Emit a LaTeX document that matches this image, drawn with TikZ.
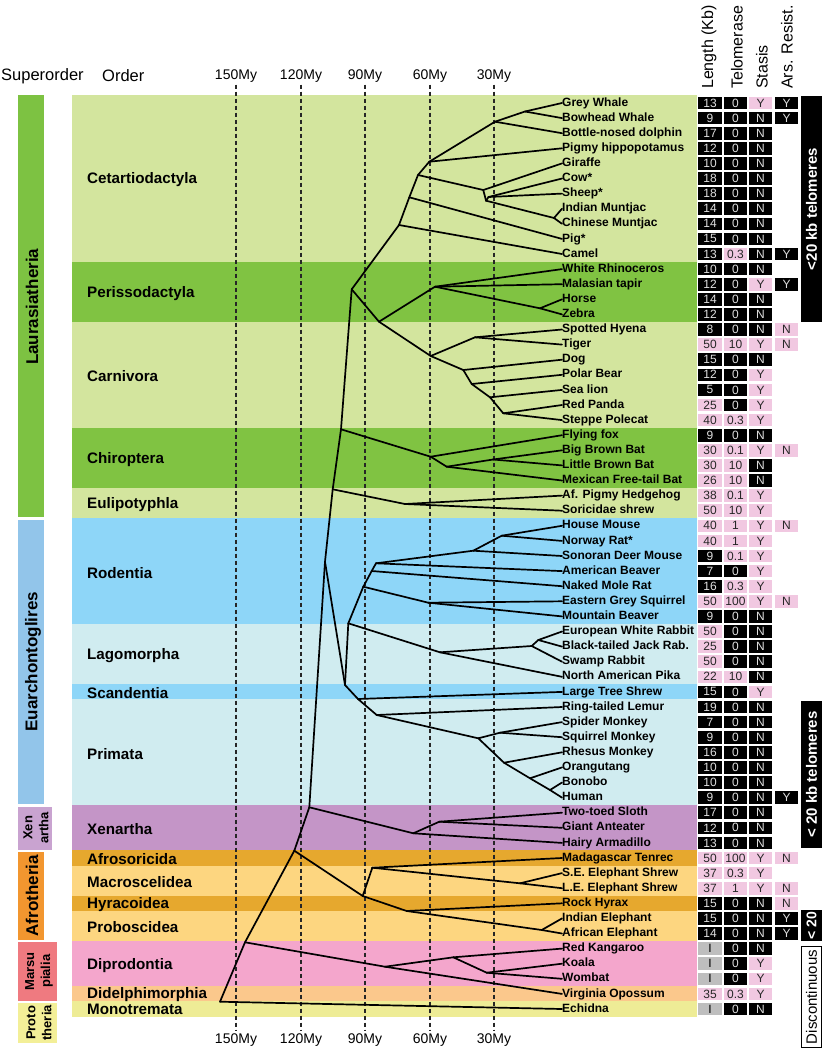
\documentclass[tikz,border=0pt]{standalone}
\usepackage{fontspec}
\setmainfont{Liberation Sans}
\definecolor{lgreen}{HTML}{D3E59E}
\definecolor{dgreen}{HTML}{80C342}
\definecolor{blueb}{HTML}{8ED6F8}
\definecolor{cyanb}{HTML}{D0ECF0}
\definecolor{purpb}{HTML}{C495C7}
\definecolor{dorange}{HTML}{E6A82E}
\definecolor{lorange}{HTML}{FDD680}
\definecolor{pinkb}{HTML}{F4A6CC}
\definecolor{peachb}{HTML}{FBC88C}
\definecolor{yellowb}{HTML}{EEEC96}
\definecolor{sLaur}{HTML}{7DC242}
\definecolor{sEuar}{HTML}{92C5EA}
\definecolor{sXen}{HTML}{C9A3D0}
\definecolor{sAfro}{HTML}{F2962F}
\definecolor{sMars}{HTML}{EF7A80}
\definecolor{sProt}{HTML}{F3EF98}
\definecolor{pinkc}{HTML}{F1C8E1}
\definecolor{grayc}{HTML}{BEBEBE}
\begin{document}
\begin{tikzpicture}[x=1pt,y=-1pt,
  tree/.style={line width=1.7pt, line join=round, line cap=round},
  timeline/.style={line width=1.1pt, dash pattern=on 4pt off 3pt, black!85},
  species/.style={anchor=west, inner sep=0pt, font=\bfseries\fontsize{12}{12}\selectfont, text height=8.7pt, text depth=2.4pt},
  ordlab/.style={anchor=west, inner sep=0pt, font=\bfseries\fontsize{15.2}{16}\selectfont},
  suplab/.style={rotate=90, inner sep=0pt, align=center},
  cell/.style={minimum width=23.5pt, minimum height=12.6pt, inner sep=0pt, font=\fontsize{12}{12}\selectfont},
  cellK/.style={cell, fill=black, text=black!12},
  cellP/.style={cell, fill=pinkc, text=black!85},
  cellG/.style={cell, fill=grayc, text=black},
  stY/.style={cellP}, stN/.style={cellK}, arY/.style={cellK}, arN/.style={cellP},
  colhead/.style={rotate=90, anchor=west, inner sep=0pt, font=\fontsize{16}{16}\selectfont},
  timelab/.style={inner sep=2pt, font=\fontsize{14}{14}\selectfont},
  bartext/.style={rotate=90, inner sep=0pt, text=white, font=\bfseries\fontsize{15}{15}\selectfont},
]
\useasboundingbox[fill=white] (0,0) rectangle (824,1050);

% order bands
\fill[lgreen] (72,95.45) rectangle (697,261.55);
\fill[dgreen] (72,261.55) rectangle (697,321.95);
\fill[lgreen] (72,321.95) rectangle (697,427.65);
\fill[dgreen] (72,427.65) rectangle (697,488.05);
\fill[lgreen] (72,488.05) rectangle (697,518.25);
\fill[blueb] (72,518.25) rectangle (697,623.95);
\fill[cyanb] (72,623.95) rectangle (697,684.35);
\fill[blueb] (72,684.35) rectangle (697,699.45);
\fill[cyanb] (72,699.45) rectangle (697,805.15);
\fill[purpb] (72,805.15) rectangle (697,850.45);
\fill[dorange] (72,850.45) rectangle (697,865.55);
\fill[lorange] (72,865.55) rectangle (697,895.75);
\fill[dorange] (72,895.75) rectangle (697,910.85);
\fill[lorange] (72,910.85) rectangle (697,941.05);
\fill[pinkb] (72,941.05) rectangle (697,986.35);
\fill[peachb] (72,986.35) rectangle (697,1001.45);
\fill[yellowb] (72,1001.45) rectangle (697,1016.55);

% superorder bars
\fill[sLaur] (18,95.45) rectangle (44,517);
\fill[sEuar] (18,519.5) rectangle (44,804);
\fill[sXen] (18,806.5) rectangle (52,849.5);
\fill[sAfro] (18,851.5) rectangle (44,940);
\fill[sMars] (18,942) rectangle (57,1000.5);
\fill[sProt] (18,1002.5) rectangle (57,1043);
\node[suplab, font=\bfseries\fontsize{17}{17}\selectfont] (supLaur) at (32,306.85) {Laurasiatheria};
\node[suplab, font=\bfseries\fontsize{17}{17}\selectfont, text height=12pt, text depth=3.5pt] (supEuar) at (33,661.7) {Euarchontoglires};
\node[suplab, font=\bfseries\fontsize{13}{16}\selectfont] (supXen) at (36,827.8) {Xen\\artha};
\node[suplab, font=\bfseries\fontsize{17}{17}\selectfont] (supAfro) at (32,895.75) {Afrotheria};
\node[suplab, font=\bfseries\fontsize{13}{16}\selectfont] (supMars) at (39,971.25) {Marsu\\pialia};
\node[suplab, font=\bfseries\fontsize{13}{16}\selectfont] (supProt) at (39,1022.8) {Proto\\theria};

% headers
\node[anchor=west, inner sep=0pt, font=\fontsize{16.5}{16}\selectfont] (hsup) at (1,76) {Superorder};
\node[anchor=west, inner sep=0pt, font=\fontsize{16.5}{16}\selectfont] (hord) at (102,76) {Order};
\node[colhead] (hlen) at (709,89) {Length (Kb)};
\node[colhead] (htel) at (737,89) {Telomerase};
\node[colhead] (hsta) at (762,89) {Stasis};
\node[colhead] (hars) at (787,89) {Ars. Resist.};

% time axis
\foreach \k/\xx/\lab in {1/236/150My,2/301/120My,3/365/90My,4/430/60My,5/494/30My}{
  \node[timelab] (tt\k) at (\xx,76) {\lab};
  \node[timelab] (tb\k) at (\xx,1040) {\lab};
  \draw[timeline] (tt\k.south) -- (tb\k.north);
}

% order labels
\node[ordlab] (oCet) at (87,180) {Cetartiodactyla};
\node[ordlab] (oPer) at (87,293.2) {Perissodactyla};
\node[ordlab] (oCar) at (87,376.3) {Carnivora};
\node[ordlab] (oChi) at (87,459.3) {Chiroptera};
\node[ordlab] (oEul) at (87,504.6) {Eulipotyphla};
\node[ordlab] (oRod) at (87,572.6) {Rodentia};
\node[ordlab] (oLag) at (87,655.6) {Lagomorpha};
\node[ordlab] (oSca) at (87,693.2) {Scandentia};
\node[ordlab] (oPri) at (87,753.8) {Primata};
\node[ordlab] (oXen) at (87,829.3) {Xenartha};
\node[ordlab] (oAfr) at (87,859.2) {Afrosoricida};
\node[ordlab] (oMac) at (87,882) {Macroscelidea};
\node[ordlab] (oHyr) at (87,904.6) {Hyracoidea};
\node[ordlab] (oPro) at (87,927.4) {Proboscidea};
\node[ordlab] (oDip) at (87,965.5) {Diprodontia};
\node[ordlab] (oDid) at (87,994.6) {Didelphimorphia};
\node[ordlab] (oMon) at (87,1009.8) {Monotremata};

% species and table
\foreach \qi/\qn/\ql/\qlc/\qt/\qtc/\qs/\qa in {
0/Grey Whale/13/K/0/K/Y/Y,
1/Bowhead Whale/9/K/0/K/N/Y,
2/Bottle-nosed dolphin/17/K/0/K/N/x,
3/Pigmy hippopotamus/12/K/0/K/N/x,
4/Giraffe/10/K/0/K/N/x,
5/Cow*/18/K/0/K/N/x,
6/Sheep*/18/K/0/K/N/x,
7/Indian Muntjac/14/K/0/K/N/x,
8/Chinese Muntjac/14/K/0/K/N/x,
9/Pig*/15/K/0/K/N/x,
10/Camel/13/K/0.3/P/N/Y,
11/White Rhinoceros/10/K/0/K/N/x,
12/Malasian tapir/12/K/0/K/Y/Y,
13/Horse/14/K/0/K/N/x,
14/Zebra/12/K/0/K/N/x,
15/Spotted Hyena/8/K/0/K/N/N,
16/Tiger/50/P/10/P/Y/N,
17/Dog/15/K/0/K/N/x,
18/Polar Bear/12/K/0/K/Y/x,
19/Sea lion/5/K/0/K/Y/x,
20/Red Panda/25/P/0/K/Y/x,
21/Steppe Polecat/40/P/0.3/P/Y/x,
22/Flying fox/9/K/0/K/N/x,
23/Big Brown Bat/30/P/0.1/P/Y/N,
24/Little Brown Bat/30/P/10/P/N/x,
25/Mexican Free-tail Bat/26/P/10/P/N/x,
26/Af. Pigmy Hedgehog/38/P/0.1/P/Y/x,
27/Soricidae shrew/50/P/10/P/Y/x,
28/House Mouse/40/P/1/P/Y/N,
29/Norway Rat*/40/P/1/P/Y/x,
30/Sonoran Deer Mouse/9/K/0.1/P/Y/x,
31/American Beaver/7/K/0/K/Y/x,
32/Naked Mole Rat/16/K/0.3/P/Y/x,
33/Eastern Grey Squirrel/50/P/100/P/Y/N,
34/Mountain Beaver/9/K/0/K/N/x,
35/European White Rabbit/50/P/0/K/N/x,
36/Black-tailed Jack Rab./25/P/0/K/N/x,
37/Swamp Rabbit/50/P/0/K/N/x,
38/North American Pika/22/P/10/P/N/x,
39/Large Tree Shrew/15/K/0/K/Y/x,
40/Ring-tailed Lemur/19/K/0/K/N/x,
41/Spider Monkey/7/K/0/K/N/x,
42/Squirrel Monkey/9/K/0/K/N/x,
43/Rhesus Monkey/16/K/0/K/N/x,
44/Orangutang/10/K/0/K/N/x,
45/Bonobo/10/K/0/K/N/x,
46/Human/9/K/0/K/N/Y,
47/Two-toed Sloth/17/K/0/K/N/x,
48/Giant Anteater/12/K/0/K/N/x,
49/Hairy Armadillo/13/K/0/K/N/x,
50/Madagascar Tenrec/50/P/100/P/Y/N,
51/S.E. Elephant Shrew/37/P/0.3/P/Y/x,
52/L.E. Elephant Shrew/37/P/1/P/Y/N,
53/Rock Hyrax/15/K/0/K/N/N,
54/Indian Elephant/15/K/0/K/N/Y,
55/African Elephant/14/K/0/K/N/Y,
56/Red Kangaroo/I/G/0/K/N/x,
57/Koala/I/G/0/K/Y/x,
58/Wombat/I/G/0/K/Y/x,
59/Virginia Opossum/35/P/0.3/P/Y/x,
60/Echidna/I/G/0/K/N/x}{
  \pgfmathsetmacro\yy{103+15.1*\qi}
  \node[species] (s\qi) at (562,\yy) {\qn};
  \node[cell\qlc] (L\qi) at (710,\yy) {\ql};
  \node[cell\qtc] (T\qi) at (735.5,\yy) {\qt};
  \node[st\qs] (S\qi) at (760.5,\yy) {\qs};
  \if\qa x\relax\else
    \node[ar\qa] (A\qi) at (786.5,\yy) {\qa};
  \fi
}

% right side bars
\fill[black] (801,96) rectangle (822,322);
\node[bartext] (bar1) at (811.5,209) {<20 kb telomeres};
\fill[black] (801,701) rectangle (822,848);
\node[bartext] (bar2) at (811.5,774.5) {< 20 kb telomeres};
\fill[black] (801,910) rectangle (822,941);
\node[bartext, font=\bfseries\fontsize{14}{14}\selectfont] (bar3) at (811.5,925.5) {< 20};
\draw[line width=1.2pt] (801.6,946.6) rectangle (821.4,1047.4);
\node[rotate=90, inner sep=0pt, font=\fontsize{15}{15}\selectfont] (disc) at (811.5,997) {Discontinuous};

% tree internal nodes
\coordinate (WH) at (525,111.5);
\coordinate (CT) at (495,121.7);
\coordinate (W) at (429.3,161.7);
\coordinate (R1) at (483.3,190);
\coordinate (R2) at (486,200.7);
\coordinate (BV) at (488.5,197);
\coordinate (MJ) at (554,218);
\coordinate (CE2) at (418,175);
\coordinate (CE1) at (409.3,197.3);
\coordinate (CE0) at (399,225);
\coordinate (L3) at (351.7,289.3);
\coordinate (PC) at (379,321.7);
\coordinate (PE) at (435,286.7);
\coordinate (HZ) at (540,308.3);
\coordinate (KA) at (430.7,356);
\coordinate (FE) at (475,337.3);
\coordinate (D1) at (463.3,370);
\coordinate (D2) at (471.7,384);
\coordinate (D3) at (490,397.3);
\coordinate (D4) at (503.3,413.3);
\coordinate (L2) at (341,429.3);
\coordinate (C1) at (430.7,456.7);
\coordinate (C2) at (446.7,466.7);
\coordinate (C3) at (493,459.5);
\coordinate (L1) at (332.7,489.3);
\coordinate (EP) at (405,504);
\coordinate (BO) at (325,561.7);
\coordinate (EA) at (345,685);
\coordinate (GL) at (348.3,623.3);
\coordinate (RO) at (363.3,586.7);
\coordinate (RB) at (371.7,571);
\coordinate (RA) at (376,563.3);
\coordinate (MU) at (473.3,550.7);
\coordinate (MR) at (501.7,535.7);
\coordinate (SQ) at (428.3,602.7);
\coordinate (LA) at (440,652.3);
\coordinate (LE) at (531.7,646);
\coordinate (LE2) at (538.3,640);
\coordinate (SC) at (358,699);
\coordinate (PR) at (376.7,715);
\coordinate (AN) at (478.3,738.3);
\coordinate (PL) at (500,732.7);
\coordinate (CA) at (504,762.7);
\coordinate (HO) at (530,778.3);
\coordinate (HP) at (550,790);
\coordinate (XN) at (309.3,807.3);
\coordinate (XE) at (413.3,833.3);
\coordinate (XA) at (439.3,821.7);
\coordinate (PLC) at (294.3,850.7);
\coordinate (AF) at (362.7,896);
\coordinate (AFI) at (372.3,867.7);
\coordinate (ES) at (520,883.3);
\coordinate (PAE) at (406.7,911);
\coordinate (EL) at (541.7,930);
\coordinate (TH) at (245,942.3);
\coordinate (MA) at (385,966.7);
\coordinate (DI) at (453.3,957.3);
\coordinate (KW) at (486.7,972.7);
\coordinate (RT) at (220,1001.7);

% tree edges
\draw[tree] (RT) -- (TH); \draw[tree] (RT) -- (s60.west);
\draw[tree] (TH) -- (PLC); \draw[tree] (TH) -- (MA);
\draw[tree] (MA) -- (DI); \draw[tree] (MA) -- (s59.west);
\draw[tree] (DI) -- (s56.west); \draw[tree] (DI) -- (KW);
\draw[tree] (KW) -- (s57.west); \draw[tree] (KW) -- (s58.west);
\draw[tree] (PLC) -- (XN); \draw[tree] (PLC) -- (AF);
\draw[tree] (AF) -- (AFI); \draw[tree] (AF) -- (PAE);
\draw[tree] (AFI) -- (s50.west); \draw[tree] (AFI) -- (ES);
\draw[tree] (ES) -- (s51.west); \draw[tree] (ES) -- (s52.west);
\draw[tree] (PAE) -- (s53.west); \draw[tree] (PAE) -- (EL);
\draw[tree] (EL) -- (s54.west); \draw[tree] (EL) -- (s55.west);
\draw[tree] (XN) -- (BO); \draw[tree] (XN) -- (XE);
\draw[tree] (XE) -- (s49.west); \draw[tree] (XE) -- (XA);
\draw[tree] (XA) -- (s47.west); \draw[tree] (XA) -- (s48.west);
\draw[tree] (BO) -- (L1); \draw[tree] (BO) -- (EA);
\draw[tree] (EA) -- (GL); \draw[tree] (EA) -- (SC);
\draw[tree] (GL) -- (RO); \draw[tree] (GL) -- (LA);
\draw[tree] (RO) -- (SQ); \draw[tree] (RO) -- (RB);
\draw[tree] (SQ) -- (s33.west); \draw[tree] (SQ) -- (s34.west);
\draw[tree] (RB) -- (s32.west); \draw[tree] (RB) -- (RA);
\draw[tree] (RA) -- (s31.west); \draw[tree] (RA) -- (MU);
\draw[tree] (MU) -- (s30.west); \draw[tree] (MU) -- (MR);
\draw[tree] (MR) -- (s28.west); \draw[tree] (MR) -- (s29.west);
\draw[tree] (LA) -- (s38.west); \draw[tree] (LA) -- (LE);
\draw[tree] (LE) -- (s37.west); \draw[tree] (LE) -- (LE2);
\draw[tree] (LE2) -- (s35.west); \draw[tree] (LE2) -- (s36.west);
\draw[tree] (SC) -- (s39.west); \draw[tree] (SC) -- (PR);
\draw[tree] (PR) -- (s40.west); \draw[tree] (PR) -- (AN);
\draw[tree] (AN) -- (PL); \draw[tree] (AN) -- (CA);
\draw[tree] (PL) -- (s41.west); \draw[tree] (PL) -- (s42.west);
\draw[tree] (CA) -- (s43.west); \draw[tree] (CA) -- (HO);
\draw[tree] (HO) -- (s44.west); \draw[tree] (HO) -- (HP);
\draw[tree] (HP) -- (s45.west); \draw[tree] (HP) -- (s46.west);
\draw[tree] (L1) -- (L2); \draw[tree] (L1) -- (EP);
\draw[tree] (EP) -- (s26.west); \draw[tree] (EP) -- (s27.west);
\draw[tree] (L2) -- (L3); \draw[tree] (L2) -- (C1);
\draw[tree] (C1) -- (s22.west); \draw[tree] (C1) -- (C2);
\draw[tree] (C2) -- (C3); \draw[tree] (C2) -- (s25.west);
\draw[tree] (C3) -- (s23.west); \draw[tree] (C3) -- (s24.west);
\draw[tree] (L3) -- (CE0); \draw[tree] (L3) -- (PC);
\draw[tree] (CE0) -- (s10.west); \draw[tree] (CE0) -- (CE1);
\draw[tree] (CE1) -- (s9.west); \draw[tree] (CE1) -- (CE2);
\draw[tree] (CE2) -- (W); \draw[tree] (CE2) -- (R1);
\draw[tree] (W) -- (s3.west); \draw[tree] (W) -- (CT);
\draw[tree] (CT) -- (s2.west); \draw[tree] (CT) -- (WH);
\draw[tree] (WH) -- (s0.west); \draw[tree] (WH) -- (s1.west);
\draw[tree] (R1) -- (s4.west); \draw[tree] (R1) -- (R2);
\draw[tree] (R2) -- (BV); \draw[tree] (R2) -- (MJ);
\draw[tree] (BV) -- (s5.west); \draw[tree] (BV) -- (s6.west);
\draw[tree] (MJ) -- (s7.west); \draw[tree] (MJ) -- (s8.west);
\draw[tree] (PC) -- (PE); \draw[tree] (PC) -- (KA);
\draw[tree] (PE) -- (s11.west); \draw[tree] (PE) -- (s12.west); \draw[tree] (PE) -- (HZ);
\draw[tree] (HZ) -- (s13.west); \draw[tree] (HZ) -- (s14.west);
\draw[tree] (KA) -- (FE); \draw[tree] (KA) -- (D1);
\draw[tree] (FE) -- (s15.west); \draw[tree] (FE) -- (s16.west);
\draw[tree] (D1) -- (s17.west); \draw[tree] (D1) -- (D2);
\draw[tree] (D2) -- (s18.west); \draw[tree] (D2) -- (D3);
\draw[tree] (D3) -- (s19.west); \draw[tree] (D3) -- (D4);
\draw[tree] (D4) -- (s20.west); \draw[tree] (D4) -- (s21.west);
\end{tikzpicture}
\end{document}
